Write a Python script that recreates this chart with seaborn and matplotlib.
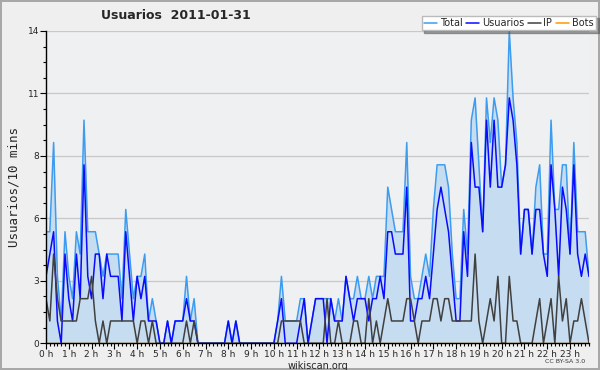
import matplotlib
matplotlib.use('Agg')
import matplotlib.pyplot as plt
from matplotlib.lines import Line2D
from matplotlib.ticker import FixedLocator, MultipleLocator
import pandas as pd
import seaborn as sns

# Values per 10-minute slot (144 slots)
total = [5, 5, 9, 3, 1, 5, 3, 2, 5, 4, 10, 5,
         5, 5, 4, 3, 4, 4, 4, 4, 2, 6, 4, 2,
         3, 3, 4, 1, 2, 1, 0, 0, 1, 0, 1, 1,
         1, 3, 1, 2, 0, 0, 0, 0, 0, 0, 0, 0,
         1, 0, 1, 0, 0, 0, 0, 0, 0, 0, 0, 0,
         0, 1, 3, 1, 1, 1, 1, 2, 2, 0, 1, 2,
         2, 2, 2, 2, 1, 2, 1, 3, 2, 2, 3, 2,
         2, 3, 2, 3, 3, 3, 7, 6, 5, 5, 5, 9,
         3, 2, 2, 3, 4, 3, 6, 8, 8, 8, 7, 4,
         2, 2, 6, 4, 10, 11, 8, 5, 11, 9, 11, 10,
         7, 8, 14, 11, 9, 4, 6, 6, 4, 7, 8, 4,
         4, 10, 6, 6, 8, 8, 4, 9, 5, 5, 5, 3]
usuarios = [3, 4, 5, 1, 0, 4, 2, 1, 4, 2, 8, 3,
            2, 4, 4, 2, 4, 3, 3, 3, 1, 5, 3, 1,
            3, 2, 3, 1, 1, 1, 0, 0, 1, 0, 1, 1,
            1, 2, 1, 1, 0, 0, 0, 0, 0, 0, 0, 0,
            1, 0, 1, 0, 0, 0, 0, 0, 0, 0, 0, 0,
            0, 1, 2, 0, 0, 0, 0, 1, 2, 0, 1, 2,
            2, 2, 0, 2, 1, 1, 1, 3, 2, 1, 2, 2,
            2, 1, 2, 2, 3, 2, 5, 5, 4, 4, 4, 7,
            1, 1, 2, 2, 3, 2, 4, 6, 7, 6, 5, 3,
            1, 1, 5, 3, 9, 7, 7, 5, 10, 7, 10, 7,
            7, 8, 11, 10, 8, 4, 6, 6, 4, 6, 6, 4,
            3, 8, 6, 3, 7, 6, 4, 8, 4, 3, 4, 3]
ip = [2, 1, 4, 2, 1, 1, 1, 1, 1, 2, 2, 2,
      3, 1, 0, 1, 0, 1, 1, 1, 1, 1, 1, 1,
      0, 1, 1, 0, 1, 0, 0, 0, 0, 0, 0, 0,
      0, 1, 0, 1, 0, 0, 0, 0, 0, 0, 0, 0,
      0, 0, 0, 0, 0, 0, 0, 0, 0, 0, 0, 0,
      0, 0, 1, 1, 1, 1, 1, 1, 0, 0, 0, 0,
      0, 0, 2, 0, 0, 1, 0, 0, 0, 1, 1, 0,
      0, 2, 0, 1, 0, 1, 2, 1, 1, 1, 1, 2,
      2, 1, 0, 1, 1, 1, 2, 2, 1, 2, 2, 1,
      1, 1, 1, 1, 1, 4, 1, 0, 1, 2, 1, 3,
      0, 0, 3, 1, 1, 0, 0, 0, 0, 1, 2, 0,
      1, 2, 0, 3, 1, 2, 0, 1, 1, 2, 1, 0]
bots = [0, 0, 0, 0, 0, 0, 0, 0, 0, 0, 0, 0,
        0, 0, 0, 0, 0, 0, 0, 0, 0, 0, 0, 0,
        0, 0, 0, 0, 0, 0, 0, 0, 0, 0, 0, 0,
        0, 0, 0, 0, 0, 0, 0, 0, 0, 0, 0, 0,
        0, 0, 0, 0, 0, 0, 0, 0, 0, 0, 0, 0,
        0, 0, 0, 0, 0, 0, 0, 0, 0, 0, 0, 0,
        0, 0, 0, 0, 0, 0, 0, 0, 0, 0, 0, 0,
        0, 0, 0, 0, 0, 0, 0, 0, 0, 0, 0, 0,
        0, 0, 0, 0, 0, 0, 0, 0, 0, 0, 0, 0,
        0, 0, 0, 0, 0, 0, 0, 0, 0, 0, 0, 0,
        0, 0, 0, 0, 0, 0, 0, 0, 0, 0, 0, 0,
        0, 0, 0, 0, 0, 0, 0, 0, 0, 0, 0, 0]
hour_labels = ['0 h', '1 h', '2 h', '3 h', '4 h', '5 h', '6 h', '7 h',
               '8 h', '9 h', '10 h', '11 h', '12 h', '13 h', '14 h', '15 h',
               '16 h', '17 h', '18 h', '19 h', '20 h', '21 h', '22 h', '23 h']
y_ticks = [0, 2.8, 5.6, 8.4, 11.2, 14]
y_labels = ['0', '3', '6', '8', '11', '14']

series = ['Total', 'Usuarios', 'IP', 'Bots']
colors = {'Total': '#3d9cf0', 'Usuarios': '#0a0aff', 'IP': '#404040', 'Bots': '#ff9900'}

df = pd.DataFrame({'slot': range(len(total)), 'Total': total, 'Usuarios': usuarios,
                   'IP': ip, 'Bots': bots})
df_long = df.melt(id_vars='slot', var_name='serie', value_name='n')

sns.set_style('white')
plt.rcParams['font.family'] = ['DejaVu Sans']

fig, ax = plt.subplots(figsize=(6, 3.7), dpi=100)
fig.patch.set_facecolor('#efefef')
fig.patch.set_edgecolor('#a8a8a8')
fig.patch.set_linewidth(1.5)
fig.subplots_adjust(left=0.0767, right=0.9817, bottom=0.0722, top=0.9163)
ax.set_facecolor('#eef0f2')

# shaded area under the total
ax.fill_between(df['slot'], df['Total'], color='#c6dcf0', zorder=1, linewidth=0)
sns.lineplot(data=df_long[df_long.serie == 'Bots'], x='slot', y='n', color=colors['Bots'],
             linewidth=1.0, ax=ax, zorder=1.5)
sns.lineplot(data=df_long[df_long.serie != 'Bots'], x='slot', y='n', hue='serie',
             hue_order=['Total', 'Usuarios', 'IP'], palette=colors, linewidth=1.1,
             ax=ax, legend=False, zorder=2)

ax.set_xlim(0, len(total) - 1)
ax.set_ylim(0, 14)
ax.yaxis.set_major_locator(FixedLocator(y_ticks))
ax.set_yticklabels(y_labels)
ax.yaxis.set_minor_locator(MultipleLocator(0.7))
ax.set_xticks(range(0, 144, 6))
ax.set_xticklabels(hour_labels)
ax.xaxis.set_minor_locator(MultipleLocator(1))
ax.tick_params(axis='both', which='major', direction='out', length=4, width=0.8,
               color='black', labelsize=6.5, pad=1, bottom=True, left=True)
ax.tick_params(axis='both', which='minor', direction='out', length=2.5, width=0.8,
               color='black', bottom=True, left=True)
ax.grid(axis='y', color='#c8c8c8', linewidth=0.9)
ax.set_axisbelow(True)
for side in ['top', 'right']:
    ax.spines[side].set_visible(False)
for side in ['left', 'bottom']:
    ax.spines[side].set_color('black')
    ax.spines[side].set_linewidth(1.0)
    ax.spines[side].set_zorder(3)

ax.set_xlabel('wikiscan.org', fontsize=7, labelpad=1)
ax.set_ylabel('Usuarios/10 mins', fontsize=9, family='DejaVu Sans Mono', labelpad=5)

fig.text(0.168, 0.957, 'Usuarios  2011-01-31', fontsize=9, fontweight='bold', va='center')
fig.text(0.975, 0.018, 'CC BY-SA 3.0', fontsize=4.5, ha='right', color='#333333')

handles = [Line2D([], [], color=colors[s], linewidth=1.1) for s in series]
leg = fig.legend(handles, series, loc='upper right', bbox_to_anchor=(0.993, 0.958),
                 ncol=4, fontsize=7, frameon=True, fancybox=False, shadow=True,
                 handlelength=1.3, handletextpad=0.3, columnspacing=0.4,
                 borderpad=0.25, borderaxespad=0)
leg.get_frame().set_edgecolor('#bbbbbb')
leg.get_frame().set_facecolor('white')

fig.savefig('out.png', dpi=100, facecolor=fig.get_facecolor(), edgecolor=fig.get_edgecolor())
